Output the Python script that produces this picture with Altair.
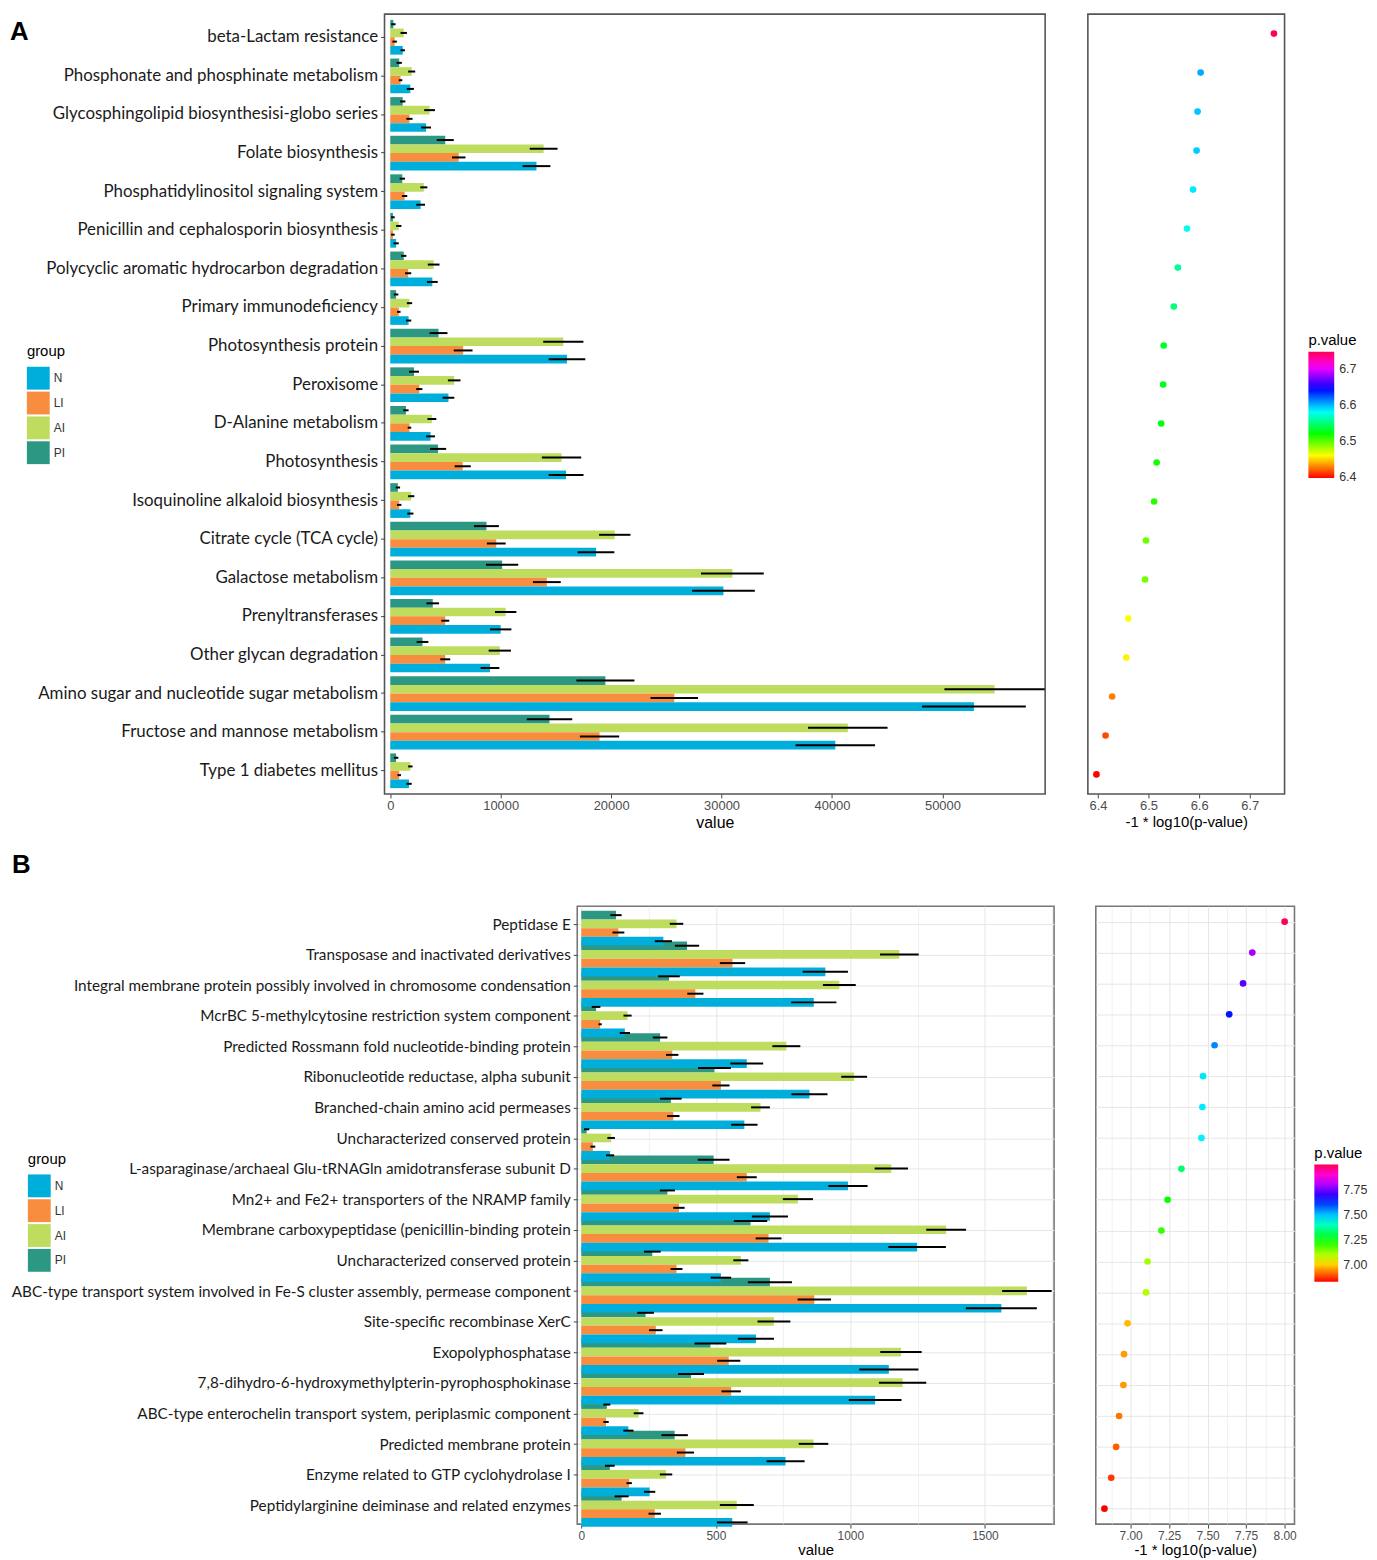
import altair as alt
import pandas as pd

# ---------------- data ----------------
GROUPS_TOP_DOWN = ["PI", "AI", "LI", "N"]
LEGEND_ORDER = ["N", "LI", "AI", "PI"]
GROUP_COLORS = ["#00AEDB", "#F98D3F", "#BEDD5E", "#2C9883"]

A_pathways = [
    "beta-Lactam resistance",
    "Phosphonate and phosphinate metabolism",
    "Glycosphingolipid biosynthesisi-globo series",
    "Folate biosynthesis",
    "Phosphatidylinositol signaling system",
    "Penicillin and cephalosporin biosynthesis",
    "Polycyclic aromatic hydrocarbon degradation",
    "Primary immunodeficiency\u00a0\u00a0",
    "Photosynthesis protein",
    "Peroxisome",
    "D-Alanine metabolism",
    "Photosynthesis",
    "Isoquinoline alkaloid biosynthesis",
    "Citrate cycle (TCA cycle)",
    "Galactose metabolism",
    "Prenyltransferases",
    "Other glycan degradation",
    "Amino sugar and nucleotide sugar metabolism",
    "Fructose and mannose metabolism",
    "Type 1 diabetes mellitus",
]
A_PI = [280, 810, 1130, 4980, 1090, 240, 1220, 530, 4370, 2150, 1420, 4330, 690, 8710, 10130, 3850, 2920, 19480, 14420, 530]
A_PI_se = [200, 240, 240, 770, 240, 160, 240, 200, 810, 450, 240, 730, 200, 1130, 1460, 570, 530, 2630, 2060, 200]
A_AI = [1220, 1940, 3560, 13890, 3040, 770, 3930, 1740, 15670, 5790, 3770, 15510, 1900, 20330, 30980, 10450, 9920, 54720, 41430, 1820]
A_AI_se = [290, 320, 490, 1260, 320, 240, 530, 240, 1820, 570, 400, 1780, 280, 1420, 2840, 970, 1010, 4540, 3600, 200]
A_LI = [400, 930, 1740, 6200, 1300, 240, 1620, 770, 6600, 2630, 1740, 6560, 810, 9600, 14180, 4980, 4980, 25720, 18950, 810]
A_LI_se = [200, 160, 280, 610, 240, 160, 280, 160, 850, 280, 160, 730, 200, 850, 1260, 360, 450, 2150, 1780, 160]
A_N = [1130, 1820, 3240, 13240, 2750, 530, 3810, 1660, 16000, 5270, 3650, 15920, 1820, 18630, 30170, 10000, 9030, 52850, 40300, 1700]
A_N_se = [200, 320, 450, 1260, 400, 240, 490, 240, 1660, 530, 400, 1580, 280, 1660, 2840, 970, 850, 4700, 3600, 240]
A_p = [6.748, 6.603, 6.597, 6.595, 6.588, 6.576, 6.558, 6.550, 6.530, 6.529,
       6.525, 6.516, 6.511, 6.495, 6.493, 6.460, 6.456, 6.428, 6.415, 6.397]
A_value_ticks = [0, 10000, 20000, 30000, 40000, 50000]
A_p_ticks = [6.4, 6.5, 6.6, 6.7]

B_pathways = [
    "Peptidase E",
    "Transposase and inactivated derivatives",
    "Integral membrane protein possibly involved in chromosome condensation",
    "McrBC 5-methylcytosine restriction system component",
    "Predicted Rossmann fold nucleotide-binding protein",
    "Ribonucleotide reductase, alpha subunit",
    "Branched-chain amino acid permeases",
    "Uncharacterized conserved protein",
    "L-asparaginase/archaeal Glu-tRNAGln amidotransferase subunit D",
    "Mn2+ and Fe2+ transporters of the NRAMP family",
    "Membrane carboxypeptidase (penicillin-binding protein",
    "Uncharacterized conserved protein\u200b",
    "ABC-type transport system involved in Fe-S cluster assembly, permease component",
    "Site-specific recombinase XerC",
    "Exopolyphosphatase",
    "7,8-dihydro-6-hydroxymethylpterin-pyrophosphokinase",
    "ABC-type enterochelin transport system, periplasmic component",
    "Predicted membrane protein",
    "Enzyme related to GTP cyclohydrolase I",
    "Peptidylarginine deiminase and related enzymes",
]
B_PI = [129, 393, 326, 55, 293, 495, 333, 20, 492, 320, 629, 264, 701, 239, 480, 408, 95, 347, 106, 150]
B_PI_se = [21, 45, 40, 16, 27, 61, 40, 10, 59, 28, 62, 31, 82, 31, 59, 48, 13, 49, 18, 26]
B_AI = [354, 1182, 959, 172, 762, 1014, 666, 111, 1152, 805, 1356, 593, 1656, 716, 1188, 1194, 213, 863, 315, 578]
B_AI_se = [25, 72, 61, 15, 52, 48, 35, 14, 62, 56, 74, 28, 92, 61, 77, 88, 18, 55, 23, 63]
B_LI = [138, 562, 424, 70, 338, 519, 342, 43, 615, 363, 696, 354, 866, 277, 548, 557, 92, 387, 178, 273]
B_LI_se = [22, 47, 30, 6, 23, 32, 23, 9, 37, 21, 48, 22, 62, 25, 43, 36, 10, 32, 10, 23]
B_N = [305, 907, 864, 162, 615, 848, 606, 107, 991, 701, 1248, 519, 1561, 649, 1143, 1092, 175, 759, 254, 561]
B_N_se = [32, 84, 84, 19, 61, 67, 49, 15, 73, 67, 107, 38, 132, 67, 110, 98, 19, 71, 21, 57]
B_p = [8.00, 7.79, 7.73, 7.64, 7.545, 7.47, 7.466, 7.46, 7.33, 7.24,
       7.20, 7.11, 7.10, 6.98, 6.957, 6.953, 6.925, 6.906, 6.874, 6.83]
B_value_ticks = [0, 250, 500, 750, 1000, 1250, 1500, 1750]
B_p_ticks = [6.875, 7.0, 7.125, 7.25, 7.375, 7.5, 7.625, 7.75, 7.875, 8.0]
B_p_legend = [7.0, 7.25, 7.5, 7.75]


def frames(names, vals, ses, p):
    rows = []
    for g in GROUPS_TOP_DOWN:
        for name, v, s in zip(names, vals[g], ses[g]):
            rows.append({"pathway": name, "group": g, "value": v, "lo": v - s, "hi": v + s})
    return pd.DataFrame(rows), pd.DataFrame({"pathway": names, "p": p})


A_bars, A_dots = frames(A_pathways,
                        {"PI": A_PI, "AI": A_AI, "LI": A_LI, "N": A_N},
                        {"PI": A_PI_se, "AI": A_AI_se, "LI": A_LI_se, "N": A_N_se}, A_p)
B_bars, B_dots = frames(B_pathways,
                        {"PI": B_PI, "AI": B_AI, "LI": B_LI, "N": B_N},
                        {"PI": B_PI_se, "AI": B_AI_se, "LI": B_LI_se, "N": B_N_se}, B_p)

FONT = "Liberation Sans"
GRID = "#E6E6E6"


def minor_props(major):
    if major is None:
        return {}
    return dict(
        labelExpr=f"datum.value % {major} == 0 ? datum.label : ''",
        tickOpacity={"condition": {"test": f"datum.value % {major} == 0", "value": 1}, "value": 0},
        gridWidth={"condition": {"test": f"datum.value % {major} == 0", "value": 1}, "value": 0.6},
    )


def spacer():
    return alt.Chart(pd.DataFrame({"s": [0]})).mark_rule(strokeOpacity=0).encode(
        x=alt.value(0), y=alt.value(0), y2=alt.value(1)
    ).properties(width=1, height=1, view=alt.ViewBackground(strokeOpacity=0))


def panel(letter, names, bars_df, dots_df, c):
    yscale = alt.Scale(paddingInner=0.1, paddingOuter=0.15)
    grid = c["grid"]
    y_axis = alt.Axis(labelFont="Lato", labelFontSize=c["label_size"], labelColor="#1a1a1a",
                      labelLimit=900, tickSize=4, tickColor="#444444", domain=False,
                      labelPadding=3, grid=grid, gridColor=GRID, bandPosition=0.5)
    y_bar = alt.Y("pathway:N", sort=names, scale=yscale, title=None, axis=y_axis)
    yoff = alt.YOffset("group:N", sort=GROUPS_TOP_DOWN,
                       scale=alt.Scale(paddingInner=0, paddingOuter=0))
    x_axis = alt.Axis(values=c["xticks"], format="d", labelColor="#4D4D4D", labelFontSize=c["xlab_size"],
                      titleFontSize=c["xtitle_size"], titleFontWeight="normal", titleColor="black",
                      tickColor="#444444", tickSize=4, domain=False, grid=grid, gridColor=GRID,
                      titlePadding=2, labelPadding=2, **minor_props(c["major"]))
    xsc = alt.Scale(domain=c["xdom"], nice=False, zero=False)
    bar = alt.Chart(bars_df).mark_bar().encode(
        y=y_bar, yOffset=yoff,
        x=alt.X("value:Q", title="value", scale=xsc, axis=x_axis),
        x2=alt.datum(0),
        color=alt.Color("group:N", scale=alt.Scale(domain=LEGEND_ORDER, range=GROUP_COLORS),
                        legend=alt.Legend(title="group", orient="none", legendX=c["glx"], legendY=c["gly"],
                                          symbolType="square", symbolSize=c["sym"], symbolStrokeWidth=0,
                                          symbolOpacity=1, titleFontSize=c["gtitle"], titleFontWeight="normal",
                                          titleFont=FONT, labelFont=FONT, labelFontSize=12, labelColor="#333333",
                                          rowPadding=2, labelOffset=4, titlePadding=8)),
    )
    err = alt.Chart(bars_df).mark_rule(color="black", strokeWidth=2).encode(
        y=y_bar, yOffset=yoff,
        x=alt.X("lo:Q", title="value", scale=xsc, axis=x_axis),
        x2="hi:Q",
    )
    left = alt.layer(bar, err).properties(
        width=c["bw"], height=c["h"],
        view=alt.ViewBackground(stroke=c["stroke"], strokeWidth=1.6),
        title=alt.TitleParams(letter, anchor="start", frame="group", orient="top",
                              offset=c["toff"], dx=c["tdx"], fontSize=26, fontWeight="bold",
                              font=FONT, color="black", **c["tbase"]),
    )

    dot = alt.Chart(dots_df).mark_circle(size=c["dot"], opacity=1).encode(
        y=alt.Y("pathway:N", sort=names, scale=yscale, title=None,
                axis=alt.Axis(labels=False, ticks=False, domain=False, grid=grid,
                              gridColor=GRID, bandPosition=0.5)),
        x=alt.X("p:Q", title="-1 * log10(p-value)",
                scale=alt.Scale(domain=c["pdom"], nice=False, zero=False),
                axis=alt.Axis(values=c["pticks"], format=c["pfmt"], labelColor="#4D4D4D",
                              labelFontSize=c["xlab_size"], titleFontSize=c["ptitle_size"],
                              titleFontWeight="normal", titleColor="black", tickColor="#444444",
                              tickSize=4, domain=False, grid=grid, gridColor=GRID,
                              titlePadding=2, labelPadding=2, **minor_props(c["pmajor"]))),
        color=alt.Color("p:Q",
                        scale=alt.Scale(range=["#FF0000", "#FF0055"], interpolate="hsl-long",
                                        zero=False, nice=False),
                        legend=alt.Legend(title="p.value", orient="none", legendX=c["plx"], legendY=c["ply"],
                                          direction="vertical", gradientLength=c["glen"],
                                          gradientThickness=c["gthick"], values=c["plegend"],
                                          format=c["pfmt"], labelFontSize=12.5, labelColor="#333333",
                                          labelFont=FONT, titleFont=FONT, titleFontSize=15,
                                          titleFontWeight="normal", gradientStrokeWidth=0,
                                          titlePadding=4, labelOffset=5)),
    ).properties(width=c["dw"], height=c["h"],
                 view=alt.ViewBackground(stroke=c["stroke"], strokeWidth=1.6))

    body = alt.hconcat(left, dot, spacing=40).resolve_scale(color="independent")
    return alt.hconcat(spacer(), body, spacing=0).resolve_scale(color="independent")


A_cfg = dict(grid=False, label_size=17, xticks=A_value_ticks, major=None, xlab_size=13,
             xtitle_size=16, xdom=[-520, 59300], glx=-360, gly=332, sym=529, gtitle=15,
             bw=665, h=785, stroke="#555555", toff=-31, tdx=-377, tbase=dict(baseline="top"),
             pmajor=None, dot=45,
             pdom=[6.380, 6.769], pticks=A_p_ticks, pfmt=".1f", ptitle_size=15,
             plx=222, ply=321, glen=127, gthick=26, plegend=A_p_ticks, dw=198)
B_cfg = dict(grid=True, label_size=15.4, xticks=B_value_ticks, major=500, xlab_size=12,
             xtitle_size=15, xdom=[-15, 1757], glx=-553, gly=247, sym=529, gtitle=15,
             bw=480, h=622, stroke="#777777", toff=28, tdx=-569, tbase={},
             pmajor=0.25, dot=45,
             pdom=[6.774, 8.064], pticks=B_p_ticks, pfmt=".2f", ptitle_size=15,
             plx=220, ply=241, glen=118, gthick=24, plegend=B_p_legend, dw=200)

chart = alt.vconcat(
    panel("A", A_pathways, A_bars, A_dots, A_cfg),
    panel("B", B_pathways, B_bars, B_dots, B_cfg),
    spacing=20,
).resolve_scale(color="independent").properties(
    padding={"left": 0, "top": 0, "right": 0, "bottom": 0}
).configure(font=FONT, background="white")

chart.save("out.html", embed_options={"renderer": "svg", "actions": False})
